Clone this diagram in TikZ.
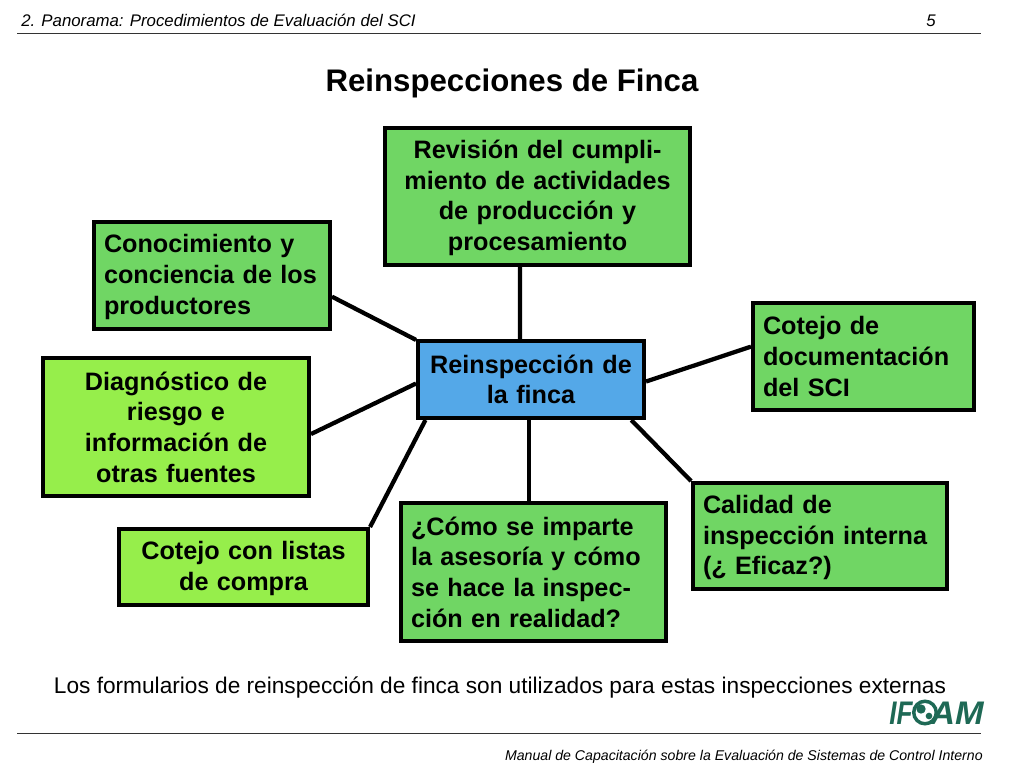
\documentclass[tikz,border=0pt]{standalone}
\usepackage{fontspec}
\setmainfont{Liberation Sans}
\usepackage{xcolor}
\usetikzlibrary{positioning}
\definecolor{boxgreen}{RGB}{112, 214, 100}
\definecolor{boxlime}{RGB}{150, 238, 75}
\definecolor{boxblue}{RGB}{84, 168, 232}
\definecolor{logogreen}{RGB}{30, 105, 85}
\newcommand{\dropline}{\rule{0pt}{16pt}}
\tikzstyle{rootbox} = [rectangle, draw=black, line width=3pt, inner xsep=7.5pt, inner ysep=0pt, font=\fontsize{18.9}{23}\bfseries\selectfont]
\tikzstyle{greenbox} = [rootbox, fill=boxgreen, align=left]
\tikzstyle{greencenter} = [rootbox, fill=boxgreen, align=center]
\tikzstyle{limebox} = [rootbox, fill=boxlime, align=center]
\tikzstyle{hubbox} = [rootbox, fill=boxblue, align=center]
\tikzstyle{link} = [draw=black, line width=3.2pt]
\tikzstyle{rule} = [draw=black!80, line width=1.3pt]
\tikzstyle{textonly} = [draw=none, fill=none, inner sep=0pt]
\tikzstyle{logotext} = [textonly, text=logogreen, font=\fontsize{24.5}{25}\bfseries\itshape\selectfont]
\tikzstyle{logoland} = [circle, fill=logogreen, inner sep=0pt]

\begin{document}
\begin{tikzpicture}[x=0.75pt, y=-0.75pt]

\useasboundingbox (0,0) rectangle (1024,768);

% boxes =============================

% centre
\node[hubbox, text width=154.5pt, minimum height=57.75pt] (hub) at (531,379.5) {Reinspección de\\la finca};

% upper row
\node[greencenter, text width=213.75pt, minimum height=102.75pt, above=54pt of hub, xshift=4.9pt] (review) {\dropline Revisión del cumpli-\\miento de actividades\\de producción y\\procesamiento};
\node[greenbox, text width=162pt, minimum height=80.25pt, left=63pt of hub, yshift=78pt] (aware) {\dropline Conocimiento y\\conciencia de los\\productores};
\node[greenbox, text width=150.75pt, minimum height=80.25pt, right=78.75pt of hub, yshift=17.25pt] (docs) {Cotejo de\\documentación\\del SCI};

% lower row
\node[limebox, text width=184.5pt, minimum height=103.5pt, left=78.75pt of hub, yshift=-35.6pt] (risk) {Diagnóstico de\\riesgo e\\información de\\otras fuentes};
\node[limebox, text width=171.75pt, minimum height=57pt, below=80.25pt of hub, xshift=-215.6pt] (lists) {\dropline Cotejo con listas\\de compra};
\node[greenbox, text width=183.75pt, minimum height=103.5pt, below=60.75pt of hub, xshift=1.9pt] (advice) {¿Cómo se imparte\\la asesoría y cómo\\se hace la inspec-\\ción en realidad?};
\node[greenbox, text width=175.5pt, minimum height=79.5pt, below=45.75pt of hub, xshift=216.75pt] (quality) {\dropline Calidad de\\inspección interna\\(¿ Eficaz?)};

% edges to centre
\draw[link] ([xshift=-13.1pt]review.south) -- ([xshift=-8.25pt]hub.north);
\draw[link] (aware.-10) -- (hub.161);
\draw[link] (risk.-3) -- (hub.182);
\draw[link] (lists.north east) -- (hub.201);
\draw[link] ([xshift=-3.4pt]advice.north) -- ([xshift=-1.5pt]hub.south);
\draw[link] (quality.north west) -- (hub.-22);
\draw[link] (docs.175) -- (hub.-1);

% header and footer =============================

\node[textonly, anchor=base west, font=\fontsize{12.6}{14}\itshape\selectfont] (chapter) at (21,26) {2. Panorama: Procedimientos de Evaluación del SCI};
\node[textonly, anchor=base east, font=\fontsize{12.6}{14}\itshape\selectfont] (page) at (936,26) {5};
\coordinate (topleft) at (17,33.5);
\coordinate (topright) at (981,33.5);
\draw[rule] (topleft) -- (topright);

\node[textonly, font=\fontsize{23.4}{26}\bfseries\selectfont] (title) at (512,83) {Reinspecciones de Finca};
\node[textonly, font=\fontsize{17}{18}\selectfont] (note) at (500,687) {Los formularios de reinspección de finca son utilizados para estas inspecciones externas};

\coordinate (botleft) at (17,733.5);
\coordinate (botright) at (981,733.5);
\draw[rule] (botleft) -- (botright);
\node[textonly, anchor=base east, font=\fontsize{10.6}{14}\itshape\selectfont] (manual) at (983,760) {Manual de Capacitación sobre la Evaluación de Sistemas de Control Interno};

% logo
\node[logotext, anchor=base west] (logoa) at (889,724) {\scalebox{0.8}[1]{IF}};
\node[circle, draw=logogreen, fill=white, line width=2.6pt, minimum size=16.9pt, inner sep=0pt] (globe) at (925,712.5) {};
\node[logoland, minimum size=7pt] (landa) at (921,709) {};
\node[logoland, minimum size=5pt] (landb) at (929,716) {};
\node[logotext, anchor=base east] (logob) at (984,724) {\scalebox{1.05}[1]{AM}};

\end{tikzpicture}
\end{document}
